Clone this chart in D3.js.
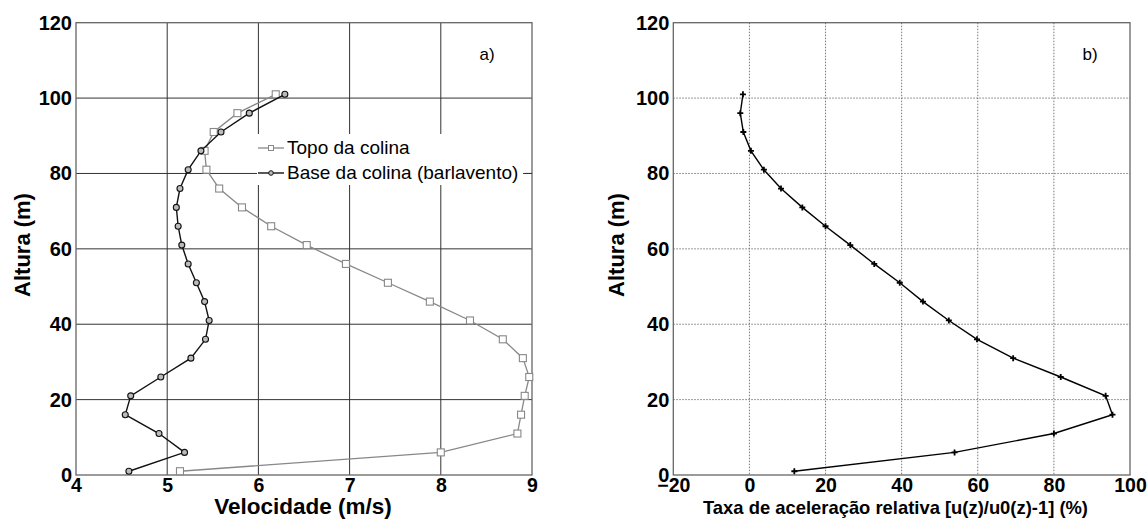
<!DOCTYPE html>
<html>
<head>
<meta charset="utf-8">
<script src="https://cdn.jsdelivr.net/npm/d3@7"></script>
<style>
  body { margin: 0; background: #fff; }
  text { font-family: "Liberation Sans", Arial, sans-serif; }
</style>
</head>
<body>
<div id="chart"></div>
<script>
// ===========================================================
// DATA
// ===========================================================
var heights = [1, 6, 11, 16, 21, 26, 31, 36, 41, 46, 51, 56, 61, 66, 71, 76, 81, 86, 91, 96, 101];
var topoVel = [5.14, 8.0, 8.84, 8.88, 8.92, 8.97, 8.90, 8.68, 8.32, 7.88, 7.42, 6.96, 6.53, 6.14, 5.82, 5.57, 5.43, 5.41, 5.51, 5.77, 6.19];
var baseVel = [4.58, 5.19, 4.91, 4.54, 4.60, 4.93, 5.26, 5.42, 5.46, 5.41, 5.32, 5.23, 5.16, 5.12, 5.10, 5.14, 5.23, 5.37, 5.59, 5.90, 6.29];
var accelRate = [11.8, 53.9, 80.0, 95.4, 93.6, 81.8, 69.3, 59.8, 52.4, 45.6, 39.5, 32.8, 26.5, 20.0, 13.9, 8.3, 3.8, 0.4, -1.6, -2.4, -1.7];
var seriesNames = ["Topo da colina", "Base da colina (barlavento)"];
var yTicks = [0, 20, 40, 60, 80, 100, 120];
var xTicksA = [4, 5, 6, 7, 8, 9];
var xTicksB = [-20, 0, 20, 40, 60, 80, 100];

// ===========================================================
// SVG WRAPPER
// ===========================================================
var svgWidth = 1148, svgHeight = 519;
var svg = d3.select('#chart').append('svg')
    .attr('width', svgWidth)
    .attr('height', svgHeight);

var top0 = 22.7, bottom0 = 475;

function makePanel(left, right, xDomain, xTicks, dotted) {
    var g = svg.append('g');
    var x = d3.scaleLinear().domain(xDomain).range([left, right]);
    var y = d3.scaleLinear().domain([0, 120]).range([bottom0, top0]);
    var gridColor = dotted ? '#777' : '#333';

    // grid
    g.append('g').selectAll('line.v')
        .data(xTicks.slice(1, -1)).enter().append('line')
        .attr('x1', d => x(d)).attr('x2', d => x(d))
        .attr('y1', top0).attr('y2', bottom0)
        .attr('stroke', gridColor).attr('stroke-width', 1)
        .attr('stroke-dasharray', dotted ? '1.5,1.5' : null);
    g.append('g').selectAll('line.h')
        .data(yTicks.slice(1, -1)).enter().append('line')
        .attr('x1', left).attr('x2', right)
        .attr('y1', d => y(d)).attr('y2', d => y(d))
        .attr('stroke', gridColor).attr('stroke-width', 1)
        .attr('stroke-dasharray', dotted ? '1.5,1.5' : null);

    // frame
    g.append('rect')
        .attr('x', left).attr('y', top0)
        .attr('width', right - left).attr('height', bottom0 - top0)
        .attr('fill', 'none').attr('stroke', '#666').attr('stroke-width', 1.3);

    // axes
    var ax = g.append('g').attr('transform', 'translate(0,' + bottom0 + ')')
        .call(d3.axisBottom(x).tickValues(xTicks).tickSize(0).tickPadding(3).tickFormat(d3.format('d')));
    ax.select('.domain').remove();
    ax.selectAll('text').attr('font-size', 19.5).attr('font-weight', 'bold').attr('fill', '#000')
        .attr('font-family', '"Liberation Sans", Arial, sans-serif');

    var ay = g.append('g').attr('transform', 'translate(' + left + ',0)')
        .call(d3.axisLeft(y).tickValues(yTicks).tickSize(0).tickPadding(4));
    ay.select('.domain').remove();
    ay.selectAll('text').attr('font-size', 20).attr('font-weight', 'bold').attr('fill', '#000')
        .attr('font-family', '"Liberation Sans", Arial, sans-serif');

    return {g: g, x: x, y: y};
}

// ===========================================================
// PANEL A
// ===========================================================
var pa = makePanel(76, 532, [4, 9], xTicksA, false);

var lineA = d3.line().x(d => pa.x(d[0])).y(d => pa.y(d[1]));
var topoPts = topoVel.map((v, i) => [v, heights[i]]);
var basePts = baseVel.map((v, i) => [v, heights[i]]);

// legend background (covers grid)
var legX = 257, legY = 134;
pa.g.append('rect').attr('x', legX).attr('y', legY).attr('width', 268).attr('height', 51).attr('fill', '#fff');

pa.g.append('path').datum(topoPts).attr('d', lineA)
    .attr('fill', 'none').attr('stroke', '#888').attr('stroke-width', 1.3);
pa.g.append('g').selectAll('rect').data(topoPts).enter().append('rect')
    .attr('x', d => pa.x(d[0]) - 3.5).attr('y', d => pa.y(d[1]) - 3.5)
    .attr('width', 7).attr('height', 7)
    .attr('fill', '#fff').attr('stroke', '#888').attr('stroke-width', 1.1);

pa.g.append('path').datum(basePts).attr('d', lineA)
    .attr('fill', 'none').attr('stroke', '#111').attr('stroke-width', 1.4);
pa.g.append('g').selectAll('circle').data(basePts).enter().append('circle')
    .attr('cx', d => pa.x(d[0])).attr('cy', d => pa.y(d[1])).attr('r', 3)
    .attr('fill', '#bbb').attr('stroke', '#111').attr('stroke-width', 1.1);

// legend
var leg = pa.g.append('g');
leg.append('line').attr('x1', legX + 1).attr('x2', legX + 27).attr('y1', 148).attr('y2', 148)
    .attr('stroke', '#888').attr('stroke-width', 1.3);
leg.append('rect').attr('x', legX + 11.5).attr('y', 145.5).attr('width', 5).attr('height', 5)
    .attr('fill', '#fff').attr('stroke', '#888').attr('stroke-width', 1);
leg.append('line').attr('x1', legX + 1).attr('x2', legX + 27).attr('y1', 173).attr('y2', 173)
    .attr('stroke', '#111').attr('stroke-width', 1.4);
leg.append('circle').attr('cx', legX + 14).attr('cy', 173).attr('r', 2.3)
    .attr('fill', '#bbb').attr('stroke', '#111').attr('stroke-width', 1);
leg.selectAll('text').data(seriesNames).enter().append('text')
    .attr('x', legX + 30).attr('y', (d, i) => 154 + i * 25)
    .attr('font-size', 19).text(d => d);
// grid continuation on right of legend
pa.g.append('line').attr('x1', legX + 266).attr('x2', 532).attr('y1', pa.y(80)).attr('y2', pa.y(80))
    .attr('stroke', '#333');

pa.g.append('text').attr('x', 487).attr('y', 60).attr('text-anchor', 'middle')
    .attr('font-size', 17).text('a)');

svg.append('text').attr('transform', 'translate(30,245) rotate(-90)')
    .attr('text-anchor', 'middle').attr('font-size', 22).attr('font-weight', 'bold')
    .text('Altura (m)');
svg.append('text').attr('x', 303).attr('y', 513.5)
    .attr('text-anchor', 'middle').attr('font-size', 22.5).attr('font-weight', 'bold')
    .text('Velocidade (m/s)');

// ===========================================================
// PANEL B
// ===========================================================
var pb = makePanel(673.3, 1130, [-20, 100], xTicksB, true);
var accPts = accelRate.map((v, i) => [v, heights[i]]);
var lineB = d3.line().x(d => pb.x(d[0])).y(d => pb.y(d[1]));

pb.g.append('path').datum(accPts).attr('d', lineB)
    .attr('fill', 'none').attr('stroke', '#000').attr('stroke-width', 1.4);
pb.g.append('g').selectAll('path.m').data(accPts).enter().append('path')
    .attr('d', d => {
        var cx = pb.x(d[0]), cy = pb.y(d[1]);
        return 'M' + (cx - 3) + ',' + cy + 'H' + (cx + 3) + 'M' + cx + ',' + (cy - 3) + 'V' + (cy + 3);
    })
    .attr('stroke', '#000').attr('stroke-width', 1.8);

pb.g.append('text').attr('x', 1090).attr('y', 60).attr('text-anchor', 'middle')
    .attr('font-size', 17).text('b)');

svg.append('text').attr('transform', 'translate(624,245) rotate(-90)')
    .attr('text-anchor', 'middle').attr('font-size', 22).attr('font-weight', 'bold')
    .text('Altura (m)');
svg.append('text').attr('x', 703).attr('y', 514)
    .attr('font-size', 19).attr('font-weight', 'bold')
    .attr('textLength', 385).attr('lengthAdjust', 'spacingAndGlyphs')
    .text('Taxa de aceleração relativa [u(z)/u0(z)-1] (%)');
</script>
</body>
</html>
